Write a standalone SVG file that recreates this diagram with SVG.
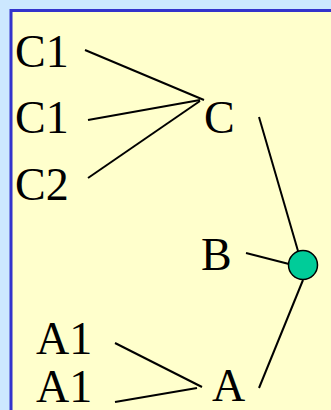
<svg xmlns="http://www.w3.org/2000/svg" width="331" height="410" viewBox="0 0 331 410">
<style>
text{font-family:"Liberation Serif","Times New Roman",serif;font-size:46px;fill:#000}
.c line{stroke:#000;stroke-width:2}
</style>
<rect x="0" y="0" width="331" height="410" fill="#CCE8FF"/>
<rect x="11" y="10.5" width="340" height="420" fill="#FFFFCC" stroke="#3333CC" stroke-width="3"/>
<g class="c" id="connectors">
<line x1="85" y1="50" x2="204" y2="100"/>
<line x1="88" y1="120" x2="200" y2="100"/>
<line x1="88" y1="178" x2="200" y2="101"/>
<line x1="259" y1="117" x2="298" y2="251"/>
<line x1="246" y1="253" x2="289" y2="264"/>
<line x1="303" y1="280" x2="259" y2="388"/>
<line x1="115" y1="343" x2="202" y2="387"/>
<line x1="115" y1="402" x2="197" y2="388"/>
</g>
<g id="C1a"><text x="15" y="67">C1</text></g>
<g id="C1b"><text x="15" y="133">C1</text></g>
<g id="C2"><text x="15" y="200">C2</text></g>
<g id="C"><text x="204" y="133">C</text></g>
<g id="B"><text x="201" y="270">B</text></g>
<g id="A1a"><text x="36" y="354">A1</text></g>
<g id="A1b"><text x="36" y="402">A1</text></g>
<g id="A"><text x="212" y="401">A</text></g>
<g id="node"><circle cx="303" cy="265" r="14.5" fill="#00CC99" stroke="#000" stroke-width="1.5"/></g>
</svg>
